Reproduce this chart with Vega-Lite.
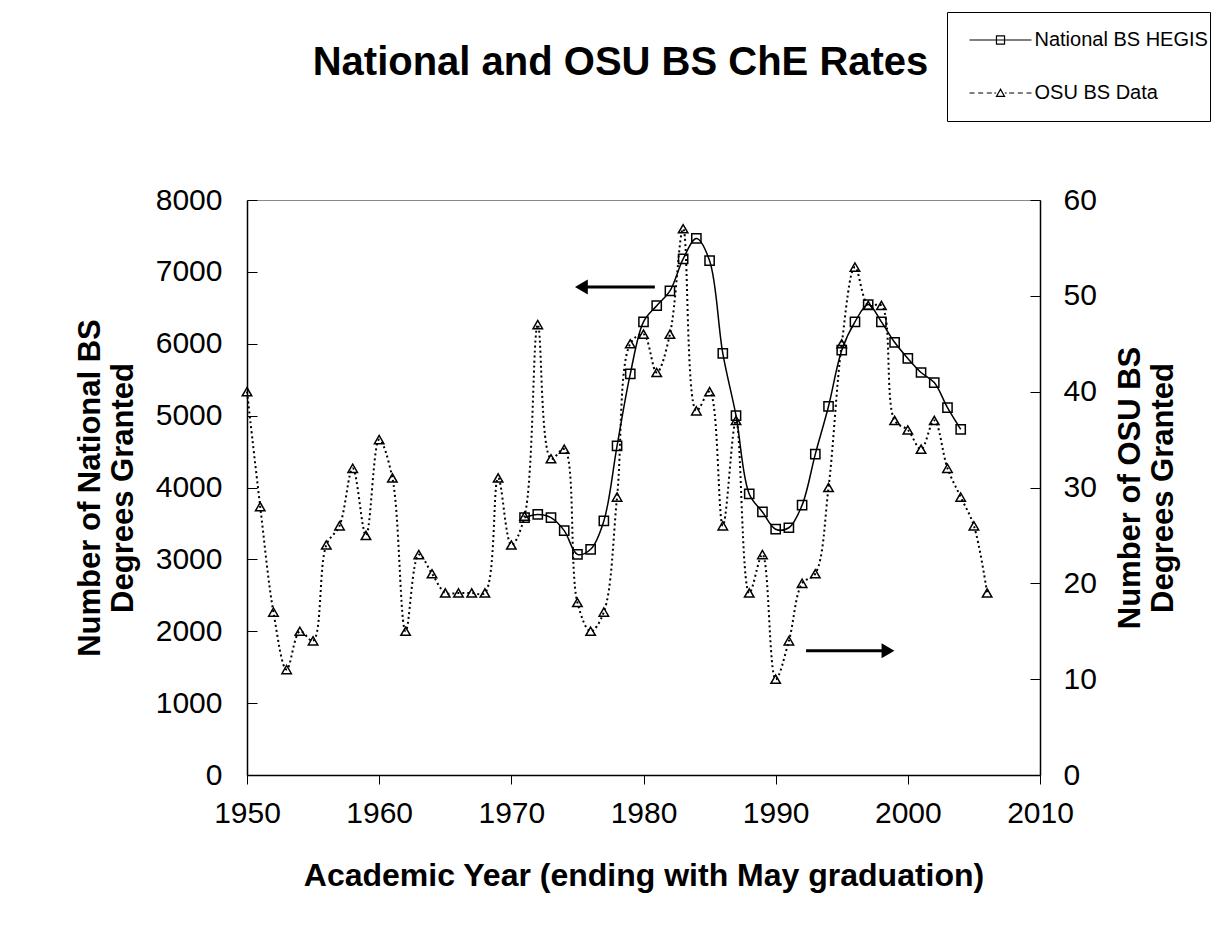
{
  "$schema": "https://vega.github.io/schema/vega-lite/v6.json",
  "width": 793,
  "height": 575,
  "autosize": "none",
  "padding": {"left": 247, "top": 200, "right": 173, "bottom": 170},
  "background": "white",
  "config": {
    "font": "Liberation Sans",
    "view": {"stroke": "#888888", "strokeWidth": 1},
    "axis": {
      "labelFont": "Liberation Sans",
      "labelFontSize": 30,
      "labelColor": "black",
      "titleFont": "Liberation Sans",
      "titleFontSize": 31,
      "titleFontWeight": "bold",
      "titleColor": "black",
      "domainColor": "black",
      "domainWidth": 1.5,
      "tickColor": "black",
      "tickWidth": 1,
      "grid": false,
      "labelFlush": false,
      "labelOverlap": false
    }
  },
  "title": {
    "text": "National and OSU BS ChE Rates",
    "font": "Liberation Sans",
    "fontSize": 40,
    "fontWeight": "bold",
    "color": "black",
    "anchor": "middle",
    "frame": "group",
    "baseline": "alphabetic",
    "dx": -23,
    "offset": -103
  },
  "datasets": {
    "national": [
      {"year": 1971, "value": 3580},
      {"year": 1972, "value": 3625},
      {"year": 1973, "value": 3580},
      {"year": 1974, "value": 3400},
      {"year": 1975, "value": 3070},
      {"year": 1976, "value": 3140},
      {"year": 1977, "value": 3535},
      {"year": 1978, "value": 4580},
      {"year": 1979, "value": 5580},
      {"year": 1980, "value": 6305},
      {"year": 1981, "value": 6530},
      {"year": 1982, "value": 6735},
      {"year": 1983, "value": 7180},
      {"year": 1984, "value": 7465},
      {"year": 1985, "value": 7155},
      {"year": 1986, "value": 5865},
      {"year": 1987, "value": 5000},
      {"year": 1988, "value": 3910},
      {"year": 1989, "value": 3660},
      {"year": 1990, "value": 3420},
      {"year": 1991, "value": 3440},
      {"year": 1992, "value": 3755},
      {"year": 1993, "value": 4465},
      {"year": 1994, "value": 5130},
      {"year": 1995, "value": 5910},
      {"year": 1996, "value": 6305},
      {"year": 1997, "value": 6545},
      {"year": 1998, "value": 6305},
      {"year": 1999, "value": 6020},
      {"year": 2000, "value": 5795},
      {"year": 2001, "value": 5600},
      {"year": 2002, "value": 5460},
      {"year": 2003, "value": 5110},
      {"year": 2004, "value": 4810}
    ],
    "osu": [
      {"year": 1950, "osu": 40},
      {"year": 1951, "osu": 28},
      {"year": 1952, "osu": 17},
      {"year": 1953, "osu": 11},
      {"year": 1954, "osu": 15},
      {"year": 1955, "osu": 14},
      {"year": 1956, "osu": 24},
      {"year": 1957, "osu": 26},
      {"year": 1958, "osu": 32},
      {"year": 1959, "osu": 25},
      {"year": 1960, "osu": 35},
      {"year": 1961, "osu": 31},
      {"year": 1962, "osu": 15},
      {"year": 1963, "osu": 23},
      {"year": 1964, "osu": 21},
      {"year": 1965, "osu": 19},
      {"year": 1966, "osu": 19},
      {"year": 1967, "osu": 19},
      {"year": 1968, "osu": 19},
      {"year": 1969, "osu": 31},
      {"year": 1970, "osu": 24},
      {"year": 1971, "osu": 27},
      {"year": 1972, "osu": 47},
      {"year": 1973, "osu": 33},
      {"year": 1974, "osu": 34},
      {"year": 1975, "osu": 18},
      {"year": 1976, "osu": 15},
      {"year": 1977, "osu": 17},
      {"year": 1978, "osu": 29},
      {"year": 1979, "osu": 45},
      {"year": 1980, "osu": 46},
      {"year": 1981, "osu": 42},
      {"year": 1982, "osu": 46},
      {"year": 1983, "osu": 57},
      {"year": 1984, "osu": 38},
      {"year": 1985, "osu": 40},
      {"year": 1986, "osu": 26},
      {"year": 1987, "osu": 37},
      {"year": 1988, "osu": 19},
      {"year": 1989, "osu": 23},
      {"year": 1990, "osu": 10},
      {"year": 1991, "osu": 14},
      {"year": 1992, "osu": 20},
      {"year": 1993, "osu": 21},
      {"year": 1994, "osu": 30},
      {"year": 1995, "osu": 45},
      {"year": 1996, "osu": 53},
      {"year": 1997, "osu": 49},
      {"year": 1998, "osu": 49},
      {"year": 1999, "osu": 37},
      {"year": 2000, "osu": 36},
      {"year": 2001, "osu": 34},
      {"year": 2002, "osu": 37},
      {"year": 2003, "osu": 32},
      {"year": 2004, "osu": 29},
      {"year": 2005, "osu": 26},
      {"year": 2006, "osu": 19}
    ],
    "legendItems": [
      {"series": "National BS HEGIS"},
      {"series": "OSU BS Data"}
    ],
    "arrows": [
      {"year": 1980.86, "yearEnd": 1975.3, "value": 6790},
      {"year": 1992.3, "yearEnd": 1998.5, "value": 1729}
    ],
    "headLeft": [{"year": 1975.3, "value": 6790}],
    "headRight": [{"year": 1998.5, "value": 1729}]
  },
  "encoding": {
    "x": {
      "field": "year",
      "type": "quantitative",
      "scale": {"domain": [1950, 2010], "nice": false, "zero": false},
      "axis": {
        "values": [1950, 1960, 1970, 1980, 1990, 2000, 2010],
        "format": "d",
        "tickSize": 9,
        "labelPadding": 14,
        "title": "Academic Year (ending with May graduation)",
        "titleFontSize": 32,
        "titlePadding": 32
      }
    }
  },
  "layer": [
    {
      "encoding": {
        "y": {
          "field": "value",
          "type": "quantitative",
          "scale": {"domain": [0, 8000], "nice": false},
          "axis": {
            "orient": "left",
            "values": [0, 1000, 2000, 3000, 4000, 5000, 6000, 7000, 8000],
            "format": "d",
            "tickSize": -10,
            "labelPadding": 35,
            "title": ["Number of National BS", "Degrees Granted"],
            "titleLineHeight": 33,
            "titlePadding": 16
          }
        }
      },
      "layer": [
        {
          "data": {"name": "national"},
          "mark": {"type": "line", "interpolate": "catmull-rom", "color": "black", "strokeWidth": 1.5}
        },
        {
          "data": {"name": "national"},
          "mark": {"type": "point", "shape": "square", "filled": false, "color": "black", "size": 85, "strokeWidth": 1.5, "opacity": 1}
        },
        {
          "data": {"name": "legendItems"},
          "mark": {"type": "point", "filled": false, "color": "black", "strokeWidth": 1.2},
          "encoding": {
            "shape": {
              "field": "series",
              "type": "nominal",
              "scale": {
                "domain": ["National BS HEGIS", "OSU BS Data"],
                "range": [
                  "M-1,0L1,0M-0.13,-0.13L0.13,-0.13L0.13,0.13L-0.13,0.13Z",
                  "M-1,0L-0.84,0M-0.72,0L-0.56,0M-0.44,0L-0.28,0M-0.2,0L-0.14,0M0.14,0L0.2,0M0.28,0L0.44,0M0.56,0L0.72,0M0.84,0L1,0M-0.13,0.11L0.13,0.11L0,-0.12Z"
                ]
              },
              "legend": {
                "orient": "none",
                "legendX": 700,
                "legendY": -188,
                "title": null,
                "direction": "vertical",
                "symbolSize": 3844,
                "clipHeight": 53,
                "symbolOffset": 20,
                "padding": 1.5,
                "rowPadding": 0,
                "labelOffset": 2,
                "labelLimit": 400,
                "labelFont": "Liberation Sans",
                "labelFontSize": 20,
                "labelColor": "black",
                "strokeColor": "black",
                "fillColor": "white",
                "symbolStrokeColor": "black",
                "symbolStrokeWidth": 1.2,
                "symbolFillColor": "transparent",
                "symbolOpacity": 1
              }
            }
          }
        },
        {
          "data": {"name": "arrows"},
          "mark": {"type": "rule", "color": "black", "strokeWidth": 3},
          "encoding": {"x2": {"field": "yearEnd"}}
        },
        {
          "data": {"name": "headLeft"},
          "mark": {"type": "point", "shape": "triangle-left", "filled": true, "color": "black", "size": 220, "opacity": 1}
        },
        {
          "data": {"name": "headRight"},
          "mark": {"type": "point", "shape": "triangle-right", "filled": true, "color": "black", "size": 220, "opacity": 1}
        }
      ]
    },
    {
      "encoding": {
        "y": {
          "field": "osu",
          "type": "quantitative",
          "scale": {"domain": [0, 60], "nice": false},
          "axis": {
            "orient": "right",
            "values": [0, 10, 20, 30, 40, 50, 60],
            "format": "d",
            "tickSize": -10,
            "labelPadding": 33,
            "title": ["Number of OSU BS", "Degrees Granted"],
            "titleAngle": -90,
            "titleBaseline": "top",
            "titleLineHeight": 33,
            "titlePadding": -14
          }
        }
      },
      "layer": [
        {
          "data": {"name": "osu"},
          "mark": {"type": "line", "interpolate": "catmull-rom", "color": "black", "strokeWidth": 2, "strokeDash": [2, 3]}
        },
        {
          "data": {"name": "osu"},
          "mark": {"type": "point", "shape": "triangle-up", "filled": false, "color": "black", "size": 90, "strokeWidth": 1.5, "opacity": 1}
        }
      ]
    }
  ],
  "resolve": {"scale": {"y": "independent"}}
}
